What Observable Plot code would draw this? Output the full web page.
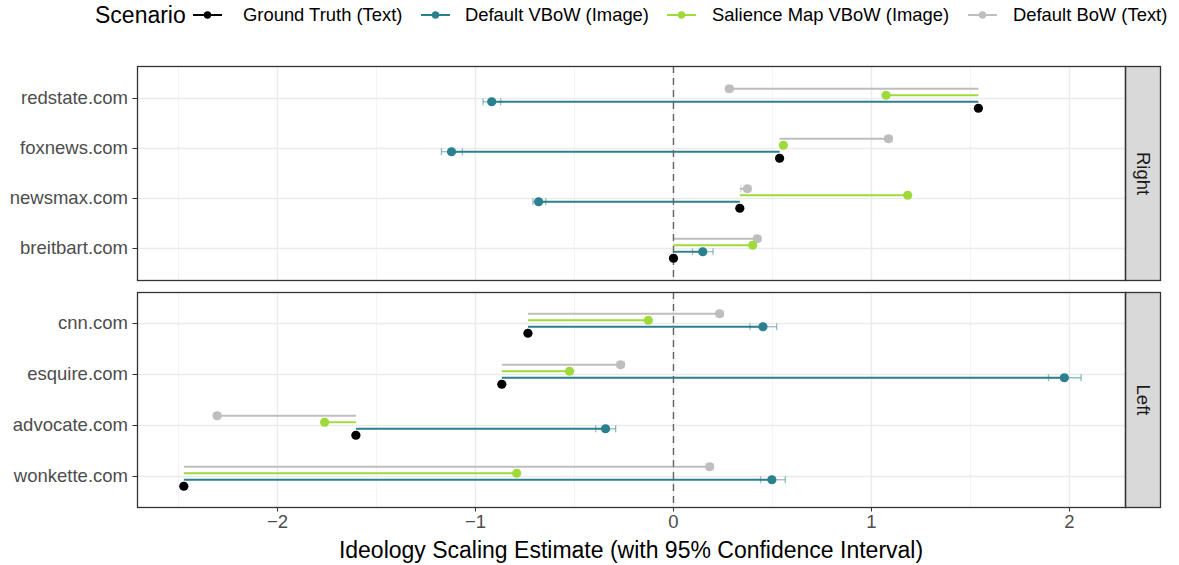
<!DOCTYPE html>
<html>
<head>
<meta charset="utf-8">
<script src="https://cdn.jsdelivr.net/npm/d3@7"></script>
<script src="https://cdn.jsdelivr.net/npm/@observablehq/plot@0.6"></script>
<style>
  body { margin: 0; background: #fff; font-family: "Liberation Sans", Arial, sans-serif; }
  #root { position: relative; width: 1179px; height: 565px; overflow: hidden; background: #fff; }
  .abs { position: absolute; white-space: nowrap; }
  #root svg { position: absolute; left: 0; }
  #root svg g[aria-label$="tick label"] { fill: #4D4D4D; }
  #root svg g[aria-label="y-axis tick"], #root svg g[aria-label="x-axis tick"] { stroke: #333; }
</style>
</head>
<body>
<div id="root"></div>
<script>
// ---------- data ----------
const scenarios = ["Ground Truth (Text)", "Default VBoW (Image)", "Salience Map VBoW (Image)", "Default BoW (Text)"];
const scenarioColors = ["#000000", "#2A808E", "#9FD93A", "#BEBEBE"];
const facets = ["Right", "Left"];
const outletsRight = ["redstate.com", "foxnews.com", "newsmax.com", "breitbart.com"];
const outletsLeft = ["cnn.com", "esquire.com", "advocate.com", "wonkette.com"];
const outlets = [...outletsRight, ...outletsLeft];

const groundTruth   = [1.540, 0.536, 0.335, 0.000, -0.735, -0.867, -1.604, -2.473];
const vbowDefault   = [-0.918, -1.121, -0.681, 0.148, 0.452, 1.974, -0.343, 0.497];
const vbowDefaultLo = [-0.962, -1.172, -0.710, 0.096, 0.386, 1.894, -0.393, 0.440];
const vbowDefaultHi = [-0.873, -1.066, -0.645, 0.200, 0.521, 2.059, -0.292, 0.565];
const vbowSalience   = [1.074, 0.555, 1.183, 0.400, -0.127, -0.525, -1.762, -0.792];
const vbowSalienceLo = [1.066, 0.547, 1.175, 0.392, -0.135, -0.533, -1.770, -0.800];
const vbowSalienceHi = [1.082, 0.563, 1.191, 0.408, -0.119, -0.517, -1.754, -0.784];
const bowDefault   = [0.282, 1.086, 0.373, 0.423, 0.233, -0.267, -2.305, 0.183];
const bowDefaultLo = [0.264, 1.068, 0.340, 0.405, 0.215, -0.285, -2.323, 0.165];
const bowDefaultHi = [0.300, 1.104, 0.391, 0.441, 0.251, -0.249, -2.287, 0.201];

const xTicks = [-2, -1, 0, 1, 2];
const xMinorTicks = [-2.5, -1.5, -0.5, 0.5, 1.5];
const xLabel = "Ideology Scaling Estimate (with 95% Confidence Interval)";
const legendTitle = "Scenario";

// ---------- tables ----------
const truthRows = outlets.map((o, i) => ({
  facet: i < 4 ? facets[0] : facets[1], outlet: o, scenario: scenarios[0], value: groundTruth[i]
}));
const estSeries = [
  [scenarios[1], vbowDefault, vbowDefaultLo, vbowDefaultHi],
  [scenarios[2], vbowSalience, vbowSalienceLo, vbowSalienceHi],
  [scenarios[3], bowDefault, bowDefaultLo, bowDefaultHi]
];
const estRows = [];
estSeries.forEach(([s, v, lo, hi]) => outlets.forEach((o, i) => estRows.push({
  facet: i < 4 ? facets[0] : facets[1], outlet: o, scenario: s,
  truth: groundTruth[i], value: v[i], lo: lo[i], hi: hi[i]
})));

const colorOf = Object.fromEntries(scenarios.map((s, i) => [s, scenarioColors[i]]));
const dodge = {};
dodge[scenarios[0]] = 9.75;
dodge[scenarios[1]] = 3.25;
dodge[scenarios[2]] = -3.25;
dodge[scenarios[3]] = -9.75;

// vertical bar symbol for error-bar caps (half length = r)
const capSymbol = {
  draw(context, size) {
    const h = Math.sqrt(size / Math.PI);
    context.moveTo(0, -h);
    context.lineTo(0, h);
  }
};

const root = document.getElementById("root");
const FONT = "Liberation Sans, Arial, sans-serif";

function panel(facet, showX, height, marginTop, marginBottom) {
  const dom = facet === facets[0] ? outletsRight : outletsLeft;
  const est = estRows.filter(d => d.facet === facet);
  const tru = truthRows.filter(d => d.facet === facet);
  const marks = [
    Plot.ruleX(xMinorTicks, {stroke: "#F2F2F2", strokeWidth: 0.9}),
    Plot.ruleX(xTicks, {stroke: "#EBEBEB", strokeWidth: 1.5}),
    Plot.ruleY(dom, {stroke: "#EBEBEB", strokeWidth: 1.5})
  ];
  scenarios.slice(1).forEach(s => {
    const data = est.filter(d => d.scenario === s);
    marks.push(Plot.link(data, {x1: "truth", x2: "value", y1: "outlet", y2: "outlet",
      dy: dodge[s], stroke: colorOf[s], strokeWidth: 1.9}));
  });
  marks.push(Plot.ruleX([0], {stroke: "#666666", strokeWidth: 1.4, strokeDasharray: "7,5"}));
  scenarios.slice(1).forEach(s => {
    const data = est.filter(d => d.scenario === s);
    const o = {stroke: colorOf[s], strokeOpacity: 0.5, strokeWidth: 1.3};
    marks.push(Plot.link(data, {x1: "lo", x2: "hi", y1: "outlet", y2: "outlet", dy: dodge[s], ...o}));
    marks.push(Plot.dot(data, {x: "lo", y: "outlet", dy: dodge[s], symbol: capSymbol, r: 3.5, fill: "none", ...o}));
    marks.push(Plot.dot(data, {x: "hi", y: "outlet", dy: dodge[s], symbol: capSymbol, r: 3.5, fill: "none", ...o}));
  });
  [scenarios[3], scenarios[2], scenarios[1]].forEach(s => {
    marks.push(Plot.dot(est.filter(d => d.scenario === s), {x: "value", y: "outlet", dy: dodge[s], r: 4.6, fill: colorOf[s], stroke: "none"}));
  });
  marks.push(Plot.dot(tru, {x: "value", y: "outlet", dy: dodge[scenarios[0]], r: 4.6, fill: colorOf[scenarios[0]], stroke: "none"}));
  // facet strip
  marks.push(Plot.frame({insetLeft: 988, insetRight: -35, fill: "#D9D9D9", stroke: "#333333", strokeWidth: 1.3}));
  marks.push(Plot.text([facet], {text: d => d, frameAnchor: "right", dx: 17.5, rotate: 90,
    textAnchor: "middle", fill: "#1A1A1A", fontSize: 18.5}));
  marks.push(Plot.frame({stroke: "#333333", strokeWidth: 1.3}));

  return Plot.plot({
    width: 1179, height, marginTop, marginBottom, marginLeft: 137, marginRight: 54,
    style: {fontSize: "18.5px", fontFamily: FONT, color: "#333", background: "transparent", overflow: "visible"},
    x: {domain: [-2.707, 2.283], ticks: xTicks, tickSize: 4.5, tickPadding: 3, label: null,
        axis: showX ? "bottom" : null, tickFormat: d => d < 0 ? "\u2212" + Math.abs(d) : String(d)},
    y: {type: "point", domain: dom, padding: 0.6, tickSize: 4.5, tickPadding: 5, label: null, axis: "left"},
    marks
  });
}

const topPanel = panel(facets[0], false, 283, 66, 3);
topPanel.style.top = "0px";
root.appendChild(topPanel);
const bottomPanel = panel(facets[1], true, 282, 9, 58);
bottomPanel.style.top = "283px";
root.appendChild(bottomPanel);

// x-axis title
const xt = document.createElement("div");
xt.className = "abs";
xt.textContent = xLabel;
Object.assign(xt.style, {left: "0px", width: "1262px", textAlign: "center", top: "537px",
  fontSize: "23px", lineHeight: "26px", color: "#000"});
root.appendChild(xt);

// legend
function addText(txt, left, size) {
  const el = document.createElement("div");
  el.className = "abs";
  el.textContent = txt;
  Object.assign(el.style, {left: left + "px", top: "0px", height: "30px", lineHeight: "30px", fontSize: size + "px", color: "#000"});
  root.appendChild(el);
}
addText(legendTitle, 95, 23);
const keyLeft = [193, 421, 667, 968];
const labLeft = [243, 465, 712, 1013];
scenarios.forEach((s, i) => {
  const svg = d3.select(root).append("svg").attr("width", 29).attr("height", 30)
    .style("left", keyLeft[i] + "px").style("top", "0px");
  svg.append("line").attr("x1", 0).attr("x2", 29).attr("y1", 15).attr("y2", 15)
    .attr("stroke", scenarioColors[i]).attr("stroke-width", 2);
  svg.append("circle").attr("cx", 14.5).attr("cy", 15).attr("r", 3.7).attr("fill", scenarioColors[i]);
  addText(s, labLeft[i], 18.4);
});
</script>
</body>
</html>
